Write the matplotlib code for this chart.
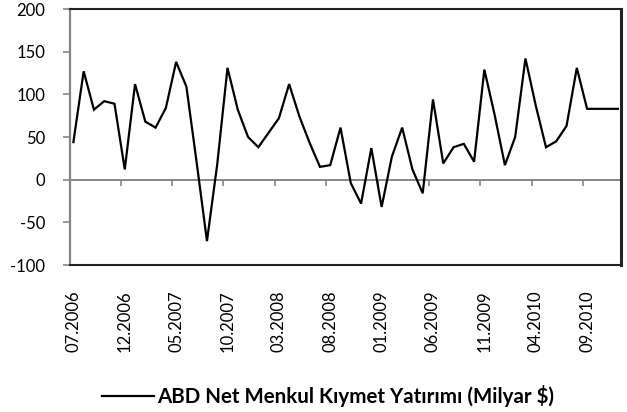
import matplotlib
matplotlib.use('Agg')
import matplotlib.pyplot as plt
import numpy as np

plt.rcParams['font.family'] = ['Lato', 'DejaVu Sans']
plt.rcParams['axes.unicode_minus'] = False

# monthly, 07.2006 .. 12.2010
values = [44, 127, 82, 92, 89, 12, 112, 68, 61, 84,
          138, 109, 20, -72, 18, 131, 82, 50, 38, 55,
          72, 112, 74, 43, 15, 17, 61, -4, -28, 37,
          -32, 27, 61, 12, -16, 94, 19, 38, 42, 21,
          129, 76, 17, 50, 142, 87, 38, 45, 63, 131,
          83, 83, 83, 83]
tick_labels = ["07.2006", "12.2006", "05.2007", "10.2007", "03.2008", "08.2008",
               "01.2009", "06.2009", "11.2009", "04.2010", "09.2010"]
series_name = "ABD Net Menkul Kıymet Yatırımı (Milyar $)"

GRAY = "#868686"

fig = plt.figure(figsize=(6.27, 4.12), dpi=100)
ax = fig.add_axes([70/627, (412-265)/412, 551/627, 256/412])

x = np.arange(len(values))
line, = ax.plot(x, values, color="black", lw=1.6, solid_joinstyle="miter")

ax.set_xlim(-0.33, len(values) - 1 + 0.3)
ax.set_ylim(-100, 200)
ax.set_yticks(np.arange(-100, 201, 50))
ax.tick_params(axis="y", direction="out", length=5, width=1.2, color=GRAY,
               pad=13, labelsize=12)

# category labels every 5 months, no marks
ax.set_xticks(x[::5])
ax.set_xticklabels(tick_labels, rotation=90, fontsize=12)
ax.tick_params(axis="x", length=0, pad=18)

# zero line of the category axis with marks between categories
zero = ax.secondary_xaxis(1/3)
zero.set_xticks(x[5::5] - 0.4)
zero.set_xticklabels([])
zero.tick_params(direction="out", length=4.5, width=1.2, color=GRAY)
zero.spines["bottom"].set_color(GRAY)
zero.spines["bottom"].set_linewidth(1.4)

ax.spines["left"].set_color(GRAY)
ax.spines["left"].set_linewidth(1.6)
for s in ["top", "right", "bottom"]:
    ax.spines[s].set_color("#222222")
    ax.spines[s].set_linewidth(1.5)
ax.spines["right"].set_linewidth(2.2)

fig.legend([line], [series_name], loc="center", bbox_to_anchor=(328/627, 1-396/412),
           frameon=False, handlelength=2.55, handletextpad=0.15,
           prop={"weight": "bold", "size": 14.8})

fig.savefig("out.png", dpi=100)
